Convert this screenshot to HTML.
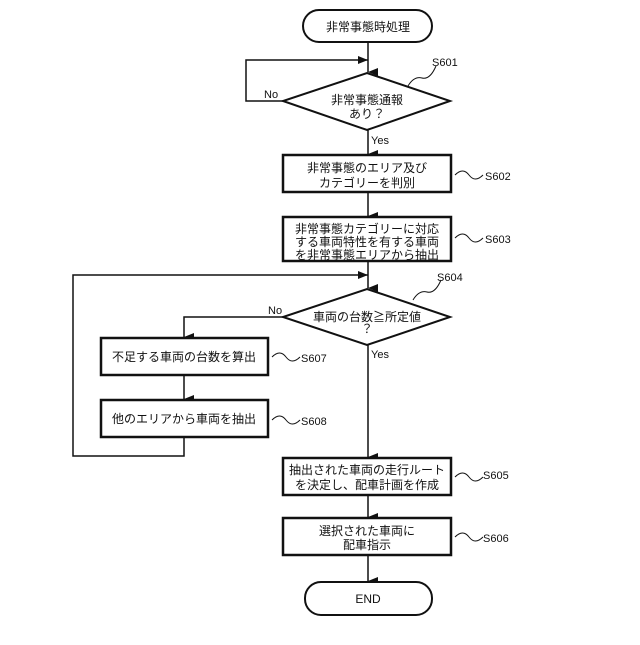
<!DOCTYPE html>
<html><head><meta charset="utf-8"><style>body{margin:0;background:#fff}svg text{font-family:"Liberation Sans","Noto Sans CJK JP",sans-serif;fill:#111}</style></head><body>
<svg width="640" height="640" viewBox="0 0 640 640" xmlns="http://www.w3.org/2000/svg">
<defs><marker id="a" markerWidth="8" markerHeight="10" refX="4" refY="10" orient="auto" markerUnits="userSpaceOnUse"><path d="M0,0 L8,0 L4,10z" fill="#111"/></marker>
<marker id="r" markerWidth="10" markerHeight="8" refX="10" refY="4" orient="auto" markerUnits="userSpaceOnUse"><path d="M0,0 L10,4 L0,8z" fill="#111"/></marker></defs>
<g stroke="#111" stroke-width="1.5" fill="none">
<rect x="303" y="10" width="129" height="32" rx="16" fill="#fff" stroke-width="2"/>
<line x1="368" y1="42" x2="368" y2="72" marker-end="url(#a)"/>
<polyline points="283,101 246,101 246,60 368,60" marker-end="url(#r)"/>
<polygon points="367,73 450,101 367,130 283,101" fill="#fff" stroke-width="2"/>
<line x1="368" y1="130" x2="368" y2="154" marker-end="url(#a)"/>
<rect x="283" y="155" width="168" height="37" fill="#fff" stroke-width="2.5"/>
<line x1="368" y1="193" x2="368" y2="216" marker-end="url(#a)"/>
<rect x="283" y="217" width="168" height="44" fill="#fff" stroke-width="2.5"/>
<line x1="368" y1="262" x2="368" y2="288" marker-end="url(#a)"/>
<polyline points="184,437 184,456 73,456 73,275 368,275" marker-end="url(#r)"/>
<polygon points="367,289 450,317 367,345 283,317" fill="#fff" stroke-width="2"/>
<polyline points="283,317 184,317 184,337" marker-end="url(#a)"/>
<rect x="101" y="338" width="167" height="37" fill="#fff" stroke-width="2.5"/>
<line x1="184" y1="375" x2="184" y2="399" marker-end="url(#a)"/>
<rect x="101" y="400" width="167" height="37" fill="#fff" stroke-width="2.5"/>
<line x1="368" y1="345" x2="368" y2="457" marker-end="url(#a)"/>
<rect x="283" y="458" width="168" height="37" fill="#fff" stroke-width="2.5"/>
<line x1="368" y1="495" x2="368" y2="517" marker-end="url(#a)"/>
<rect x="283" y="518" width="168" height="37" fill="#fff" stroke-width="2.5"/>
<line x1="368" y1="556" x2="368" y2="581" marker-end="url(#a)"/>
<rect x="305" y="582" width="127" height="33" rx="16" fill="#fff" stroke-width="2"/>
<path d="M408,86 q6,-10 14,-8 q8,2 14,-12" stroke-width="1"/>
<path d="M455,175 q8,-8 14,0 q6,8 14,0" stroke-width="1"/>
<path d="M455,238 q8,-8 14,0 q6,8 14,0" stroke-width="1"/>
<path d="M413,300 q6,-10 14,-8 q8,2 14,-12" stroke-width="1"/>
<path d="M272,357 q8,-8 14,0 q6,8 14,0" stroke-width="1"/>
<path d="M272,420 q8,-8 14,0 q6,8 14,0" stroke-width="1"/>
<path d="M455,477 q8,-8 14,0 q6,8 14,0" stroke-width="1"/>
<path d="M455,537 q8,-8 14,0 q6,8 14,0" stroke-width="1"/>
</g>
<g font-size="12" text-anchor="middle">
<text x="368" y="31">非常事態時処理</text>
<text x="367" y="104">非常事態通報</text><text x="367" y="118">あり？</text>
<text x="367" y="172">非常事態のエリア及び</text><text x="367" y="187">カテゴリーを判別</text>
<text x="367" y="233">非常事態カテゴリーに対応</text><text x="367" y="246">する車両特性を有する車両</text><text x="367" y="259">を非常事態エリアから抽出</text>
<text x="367" y="321">車両の台数≧所定値</text><text x="367" y="333">？</text>
<text x="184" y="361">不足する車両の台数を算出</text>
<text x="184" y="423">他のエリアから車両を抽出</text>
<text x="367" y="474">抽出された車両の走行ルート</text><text x="367" y="489">を決定し、配車計画を作成</text>
<text x="367" y="535">選択された車両に</text><text x="367" y="549">配車指示</text>
<text x="368" y="603">END</text>
</g>
<g font-size="11">
<text x="264" y="98">No</text><text x="371" y="144">Yes</text>
<text x="268" y="314">No</text><text x="371" y="358">Yes</text>
<text x="432" y="66">S601</text><text x="485" y="180">S602</text><text x="485" y="243">S603</text>
<text x="437" y="281">S604</text><text x="301" y="362">S607</text><text x="301" y="425">S608</text>
<text x="483" y="479">S605</text><text x="483" y="542">S606</text>
</g>
</svg></body></html>
